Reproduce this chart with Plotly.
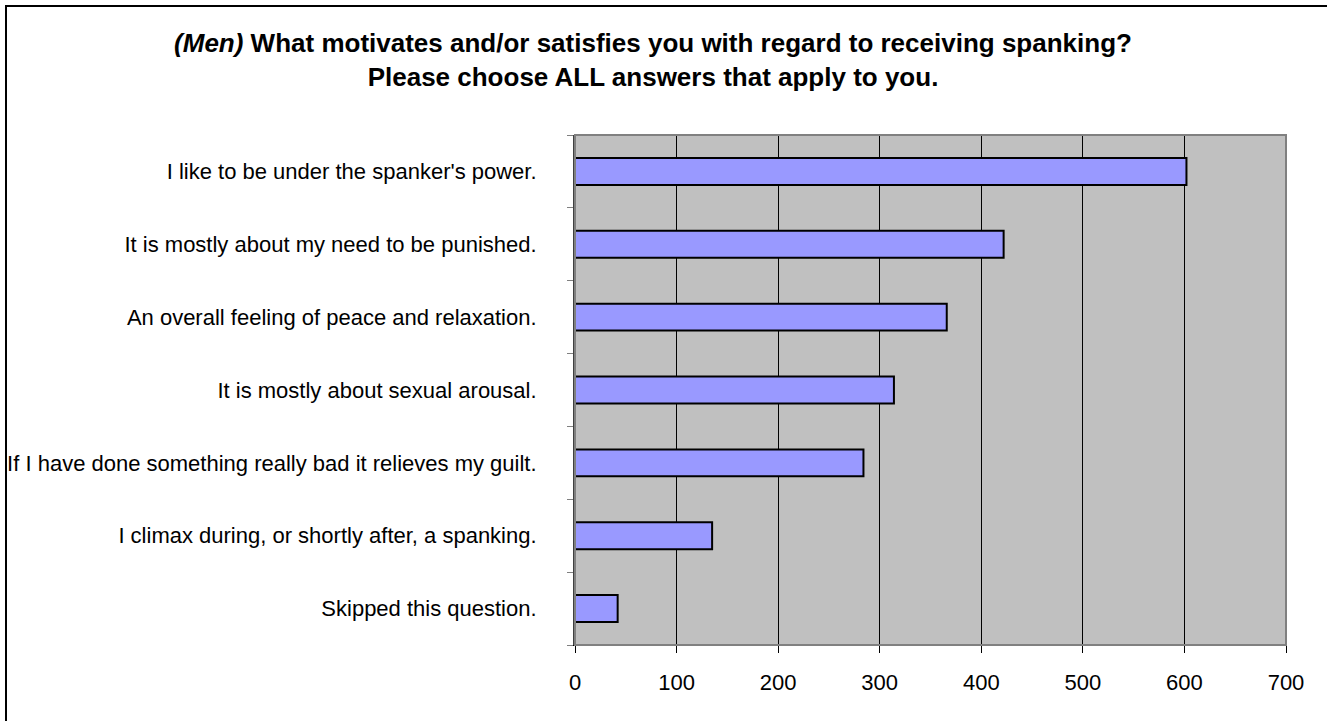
import plotly.graph_objects as go

categories = [
    "I like to be under the spanker's power.",
    "It is mostly about my need to be punished.",
    "An overall feeling of peace and relaxation.",
    "It is mostly about sexual arousal.",
    "If I have done something really bad it relieves my guilt.",
    "I climax during, or shortly after, a spanking.",
    "Skipped this question.",
]
values = [602, 422, 366, 314, 284, 135, 42]
x_ticks = [0, 100, 200, 300, 400, 500, 600, 700]

W, H = 1327, 721
L, R, T, B = 575, 1286, 135, 645

fig = go.Figure()
fig.add_trace(go.Bar(
    y=categories, x=values, orientation="h",
    marker=dict(color="#9999FF", line=dict(color="#000000", width=2)),
    width=0.37, hoverinfo="x+y",
))

fig.update_layout(
    width=W, height=H,
    margin=dict(l=L, r=W - R, t=T, b=H - B, pad=0, autoexpand=False),
    paper_bgcolor="white", plot_bgcolor="#C0C0C0",
    font=dict(family="Liberation Sans, Arial, sans-serif", size=22, color="black"),
    showlegend=False,
    title=dict(
        text="<i>(Men)</i> What motivates and/or satisfies you with regard to receiving spanking?<br>Please choose ALL answers that apply to you.",
        font=dict(size=26, family="Liberation Sans, Arial, sans-serif", color="black", weight="bold"),
        x=653 / W, xanchor="center", xref="container",
        y=1 - 52 / H, yanchor="top", yref="container",
    ),
    xaxis=dict(
        range=[0, 700], tickvals=x_ticks, ticktext=[str(v) for v in x_ticks],
        showgrid=True, gridcolor="#000000", gridwidth=1,
        showline=True, linecolor="#000000", linewidth=1,
        ticks="outside", ticklen=7, tickcolor="#000000",
        zeroline=False, tickfont=dict(size=22), ticklabelstandoff=11,
        automargin=False,
    ),
    yaxis=dict(
        categoryorder="array", categoryarray=categories[::-1],
        showline=True, linecolor="#404040", linewidth=2,
        ticks="outside", ticklen=6, tickcolor="#808080",
        tickson="boundaries", showgrid=False,
        tickfont=dict(size=22), ticklabelstandoff=32,
        automargin=False,
    ),
    shapes=[
        dict(type="rect", xref="paper", yref="paper", x0=0, x1=1, y0=0, y1=1,
             line=dict(color="#808080", width=2), fillcolor="rgba(0,0,0,0)", layer="above"),
        dict(type="rect", xref="paper", yref="paper",
             x0=(6 - L) / (R - L), x1=(W + 20 - L) / (R - L),
             y0=(B - H - 20) / (B - T), y1=(B - 6) / (B - T),
             line=dict(color="#000000", width=2), fillcolor="rgba(0,0,0,0)"),
    ],
)

fig.write_html("out.html")
